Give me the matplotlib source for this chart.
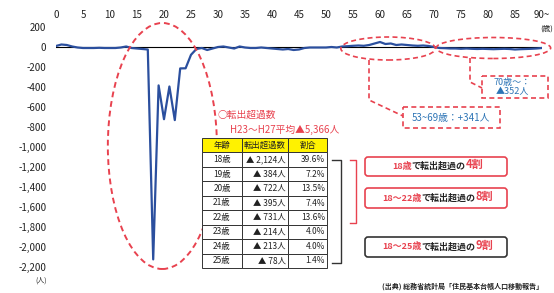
import matplotlib.pyplot as plt
from matplotlib.patches import Ellipse, Rectangle, FancyBboxPatch

plt.rcParams['font.family'] = ['Noto Sans CJK JP', 'DejaVu Sans']

# net migration by age (0 .. 90~), persons
ages = list(range(0, 91))
net_moves = [10, 25, 20, 5, -5, -10, -10, -10, -8, -10,
             -10, -10, -5, 5, -10, -15, -20, -25, -2124, -384,
             -722, -395, -731, -214, -213, -78, -20, -10, -30, -15,
             0, 5, -5, -15, 5, -5, -10, -10, -5, -10,
             -15, -20, -25, -20, -30, -25, -10, -5, -5, -5,
             -5, 0, -5, 5, 8, 12, 15, 12, 20, 35,
             50, 30, 35, 20, 25, 20, 15, 12, 15, 10,
             0, -10, -12, -15, -15, -18, -15, -18, -20, -18,
             -20, -22, -20, -18, -20, -25, -22, -20, -18, -15, -10]
x_ticks = list(range(0, 91, 5))
x_tick_labels = [str(v) for v in x_ticks[:-1]] + ['90~']
y_ticks = list(range(-2200, 201, 200))

table_header = ['年齢', '転出超過数', '割合']
table_ages = ['18歳', '19歳', '20歳', '21歳', '22歳', '23歳', '24歳', '25歳']
table_counts = ['▲ 2,124人', '▲ 384人', '▲ 722人', '▲ 395人',
                '▲ 731人', '▲ 214人', '▲ 213人', '▲ 78人']
table_shares = ['39.6%', '7.2%', '13.5%', '7.4%', '13.6%', '4.0%', '4.0%', '1.4%']

RED = '#e8424f'
BLUE = '#2b4f9e'
TEXT_BLUE = '#2e75b6'
DARK = '#222222'

fig = plt.figure(figsize=(5.54, 2.93), dpi=100)
ax = fig.add_axes([56 / 554, 1 - 267 / 293, 486 / 554, 240 / 293])
ax.set_xlim(0, 90)
ax.set_ylim(-2200, 200)
for s in ax.spines.values():
    s.set_visible(False)
ax.xaxis.tick_top()
ax.set_xticks(x_ticks)
ax.set_xticklabels(x_tick_labels)
ax.set_yticks(y_ticks)
ax.set_yticklabels([f'{v:,}' for v in y_ticks])
ax.tick_params(axis='x', length=0, pad=5, labelsize=7, colors=DARK)
ax.tick_params(axis='y', length=0, pad=7, labelsize=7, colors=DARK)
ax.axhline(0, color='black', lw=0.8, zorder=1)
ax.plot(ages, net_moves, color=BLUE, lw=1.6, zorder=2)

dash = (0, (3, 2))
ax.add_patch(Ellipse((19.7, -990), 20.2, 2460, fill=False, ec=RED, lw=1.4,
                     ls=dash, clip_on=False, zorder=3))
ax.add_patch(Ellipse((61.5, -15), 17.5, 230, fill=False, ec=RED, lw=1.2,
                     ls=dash, clip_on=False, zorder=3))
ax.add_patch(Ellipse((81, -10), 21.2, 210, fill=False, ec=RED, lw=1.2,
                     ls=dash, clip_on=False, zorder=3))

# overlay in pixel coordinates for the annotations
ov = fig.add_axes([0, 0, 1, 1])
ov.set_xlim(0, 554)
ov.set_ylim(293, 0)
ov.axis('off')
ov.patch.set_alpha(0)

ov.text(547, 29, '(歳)', fontsize=5.5, ha='center', va='center', color=DARK)
ov.text(41, 281, '(人)', fontsize=5, ha='center', va='center', color=DARK)

# callouts
ov.add_patch(Rectangle((403, 107), 97, 21, fill=False, ec=RED, lw=1.2, ls=dash))
ov.text(451, 118, '53~69歳：+341人', fontsize=7, color=TEXT_BLUE, ha='center', va='center')
ov.plot([369, 369, 403], [60, 100, 116], color=RED, lw=1.2, ls=dash)
ov.add_patch(Rectangle((482, 76), 66, 22, fill=False, ec=RED, lw=1.2, ls=dash))
ov.text(512, 87, '70歳～：\n▲352人', fontsize=6.5, color=TEXT_BLUE, ha='center',
        va='center', linespacing=1.1)
ov.plot([470, 470, 482], [58, 82, 88], color=RED, lw=1.2, ls=dash)

# table title
ov.text(218, 115, '○転出超過数', fontsize=7, color=RED, ha='left', va='center')
ov.text(230, 130, 'H23～H27平均▲5,366人', fontsize=7, color=RED, ha='left', va='center')

rows = [[a, c, s] for a, c, s in zip(table_ages, table_counts, table_shares)]
tbl = ov.table(cellText=rows, colLabels=table_header,
               colWidths=[40 / 125, 46 / 125, 39 / 125],
               bbox=[202 / 554, (293 - 268) / 293, 125 / 554, 130 / 293])
tbl.auto_set_font_size(False)
for (r, c), cell in tbl.get_celld().items():
    cell.set_edgecolor('#333333')
    cell.set_linewidth(0.7)
    cell.get_text().set_fontsize(6)
    cell.get_text().set_color(DARK)
    if r == 0:
        cell.set_facecolor('#fff200')
        cell.get_text().set_ha('center')
    elif c == 0:
        cell.get_text().set_ha('center')
    else:
        cell._loc = 'right'
        cell.get_text().set_ha('right')
        cell.PAD = 0.05

# brackets
ov.plot([332, 341, 341, 332], [160, 160, 263, 263], color='#333333', lw=1.0)
ov.plot([350, 356, 356, 350], [160, 160, 223, 223], color=RED, lw=1.0)


def rich_text(x, y, parts):
    prev = None
    for txt, color, size in parts:
        if prev is None:
            prev = ov.annotate(txt, (x, y), xycoords='data', ha='left', va='center',
                               fontsize=size, color=color, fontweight='bold')
        else:
            prev = ov.annotate(txt, (1, 0), xycoords=prev, ha='left', va='bottom',
                               fontsize=size, color=color, fontweight='bold')


ov.add_patch(FancyBboxPatch((365, 157), 142, 19, boxstyle='round,pad=0,rounding_size=3',
                            fill=False, ec=RED, lw=1.2))
rich_text(392, 166.5, [('18歳', RED, 6.5), ('で転出超過の', DARK, 6.5), ('4割', RED, 8)])
ov.add_patch(FancyBboxPatch((365, 188), 142, 20, boxstyle='round,pad=0,rounding_size=3',
                            fill=False, ec=RED, lw=1.2))
rich_text(382, 198, [('18～22歳', RED, 6.5), ('で転出超過の', DARK, 6.5), ('8割', RED, 8)])
ov.add_patch(FancyBboxPatch((365, 237), 142, 20, boxstyle='round,pad=0,rounding_size=3',
                            fill=False, ec='#333333', lw=1.2))
rich_text(382, 247, [('18～25歳', RED, 6.5), ('で転出超過の', DARK, 6.5), ('9割', RED, 8)])

ov.text(543, 286, '(出典) 総務省統計局「住民基本台帳人口移動報告」', fontsize=5,
        ha='right', va='center', color=DARK, fontweight='bold')

fig.savefig('out.png', dpi=100)
